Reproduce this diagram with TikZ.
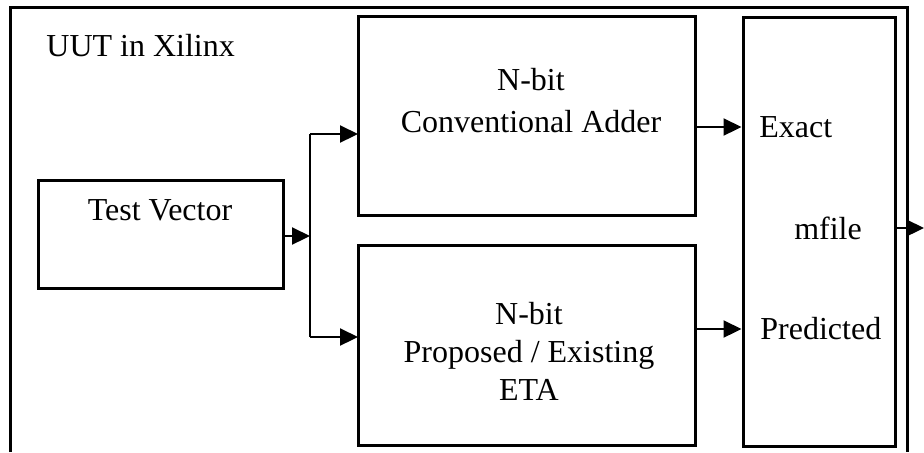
\documentclass[tikz,border=0pt]{standalone}
\usepackage{fontspec}
\setmainfont{Liberation Serif}
\usetikzlibrary{arrows.meta}

\begin{document}
\begin{tikzpicture}[x=0.5pt, y=-0.5pt, font=\fontsize{16}{19}\selectfont]

	% ---------- Helper styles ----------
	\tikzset{
		blk/.style={draw, line width=1.5pt, inner sep=0pt},
		txt/.style={inner sep=0pt, align=center},
		arr/.style={line width=1.1pt, -{Triangle[length=9pt, width=8.5pt]}}
	}

	\useasboundingbox (0,0) rectangle (924,452);

	% ---------- Outer frame (cut at the bottom) ----------
	\draw[line width=1.5pt] (10,452) |- (907,7) -- (907,452);
	\node[txt, anchor=west] (uut) at (46,46) {UUT in Xilinx};

	% ---------- Blocks ----------
	\node[blk, minimum width=122.5pt, minimum height=54pt] (tv) at (160.5,234) {};
	\node[blk, minimum width=168.5pt, minimum height=99.5pt] (add) at (526.5,115.5) {};
	\node[blk, minimum width=168.5pt, minimum height=100pt] (eta) at (526.5,345) {};
	\node[blk, minimum width=76pt, minimum height=214.5pt] (mf) at (819,231.5) {};

	% ---------- Block texts ----------
	\node[txt] (tvt) at (160,210) {Test Vector};
	\node[txt] (addt) at (531,101) {N-bit\\[2pt]Conventional Adder};
	\node[txt] (etat) at (529,351) {N-bit\\Proposed / Existing\\ETA};
	\node[txt, anchor=west] (ex) at (759,127) {Exact};
	\node[txt] (mft) at (828,228) {mfile};
	\node[txt, anchor=west] (pr) at (760,329) {Predicted};

	% ---------- Connectors ----------
	\coordinate (j) at (310,236);
	\coordinate (inA) at (358,134);
	\coordinate (inB) at (358,337);
	\coordinate (out) at (924,228);

	\draw[arr] (tv.east |- j) -- (j);
	\draw[line width=1.1pt] (j) -- (j |- inA);
	\draw[line width=1.1pt] (j) -- (j |- inB);
	\draw[arr] (j |- inA) -- (inA);
	\draw[arr] (j |- inB) -- (inB);
	\draw[arr] (add.east |- ex.west) -- (mf.west |- ex.west);
	\draw[arr] (eta.east |- pr.west) -- (mf.west |- pr.west);
	\draw[arr] (mf.east |- out) -- (out);

\end{tikzpicture}
\end{document}
